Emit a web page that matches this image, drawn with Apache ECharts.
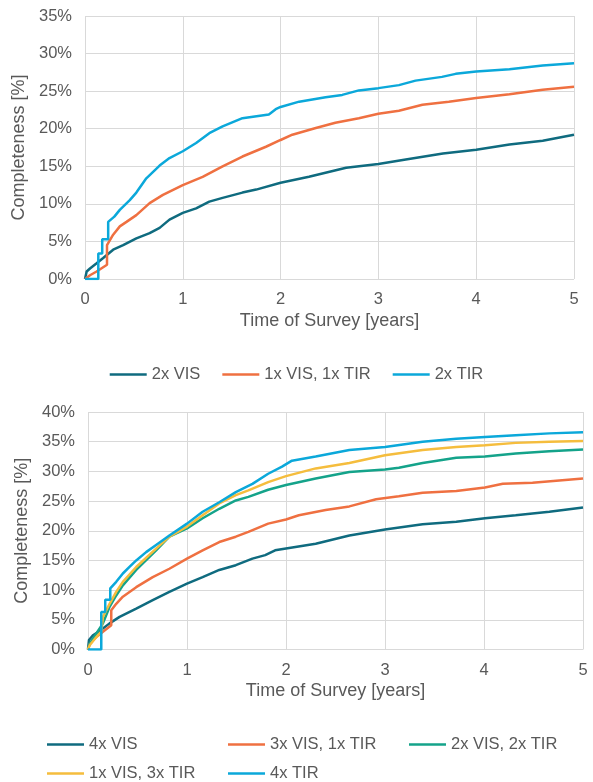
<!DOCTYPE html>
<html>
<head>
<meta charset="utf-8">
<script src="https://cdn.jsdelivr.net/npm/echarts@6/dist/echarts.min.js"></script>
<style>
  html, body { margin: 0; padding: 0; background: #ffffff; }
  #chart { width: 593px; height: 782px; }
</style>
</head>
<body>
<div id="chart"></div>
<script>
// ---------- Data (time in years, completeness in %) ----------
const xTicks = [0, 1, 2, 3, 4, 5];

// Top panel
const topNames = ['2x VIS', '1x VIS, 1x TIR', '2x TIR'];
const top2xVIS = [[0,0],[0.017,1.0],[0.051,1.4],[0.119,2.1],[0.186,2.8],[0.288,3.9],[0.39,4.5],[0.525,5.4],[0.661,6.1],[0.763,6.8],[0.864,7.9],[1.0,8.8],[1.136,9.4],[1.271,10.3],[1.407,10.8],[1.61,11.5],[1.75,11.9],[2.0,12.8],[2.29,13.6],[2.67,14.8],[3.0,15.3],[3.28,15.9],[3.66,16.7],[4.0,17.2],[4.34,17.9],[4.68,18.4],[5.0,19.2]];
const top1VIS1TIR = [[0,0],[0.051,0.5],[0.119,1.0],[0.225,1.9],[0.225,4.5],[0.288,5.9],[0.356,7.0],[0.424,7.6],[0.525,8.5],[0.661,10.1],[0.797,11.2],[1.0,12.5],[1.203,13.6],[1.407,15.0],[1.61,16.3],[1.85,17.6],[2.0,18.5],[2.12,19.2],[2.36,20.1],[2.56,20.8],[2.8,21.4],[3.0,22.0],[3.21,22.4],[3.45,23.2],[3.72,23.6],[4.0,24.1],[4.34,24.6],[4.68,25.2],[5.0,25.6]];
const top2xTIR = [[0,0],[0.136,0],[0.136,3.4],[0.176,3.4],[0.176,5.3],[0.237,5.3],[0.237,7.6],[0.3,8.3],[0.356,9.2],[0.458,10.5],[0.525,11.5],[0.627,13.4],[0.763,15.1],[0.864,16.1],[1.0,17.0],[1.136,18.1],[1.271,19.4],[1.407,20.3],[1.61,21.4],[1.88,21.9],[1.95,22.6],[2.0,22.9],[2.19,23.6],[2.46,24.2],[2.63,24.5],[2.8,25.1],[3.0,25.4],[3.21,25.8],[3.38,26.4],[3.65,26.9],[3.79,27.3],[4.0,27.6],[4.34,27.9],[4.68,28.4],[5.0,28.7]];

// Bottom panel
const botNames = ['4x VIS', '3x VIS, 1x TIR', '2x VIS, 2x TIR', '1x VIS, 3x TIR', '4x TIR'];
const bot4xVIS = [[0,0],[0.01,1.6],[0.05,2.4],[0.117,3.1],[0.218,4.4],[0.319,5.5],[0.487,6.9],[0.654,8.3],[0.822,9.7],[1.0,11.1],[1.158,12.2],[1.326,13.4],[1.493,14.2],[1.661,15.3],[1.79,15.9],[1.89,16.7],[2.0,17.0],[2.3,17.8],[2.64,19.2],[3.0,20.2],[3.38,21.1],[3.72,21.5],[4.01,22.1],[4.32,22.6],[4.66,23.2],[5.0,23.9]];
const bot3VIS1TIR = [[0,0],[0.017,1.0],[0.084,2.1],[0.151,3.0],[0.235,4.1],[0.235,6.6],[0.285,7.7],[0.352,8.9],[0.487,10.5],[0.654,12.2],[0.822,13.6],[1.0,15.3],[1.158,16.7],[1.326,18.1],[1.493,19.0],[1.62,19.8],[1.82,21.2],[2.0,21.9],[2.13,22.6],[2.4,23.5],[2.64,24.1],[2.91,25.3],[3.14,25.8],[3.38,26.4],[3.72,26.7],[4.01,27.3],[4.19,27.9],[4.49,28.1],[5.0,28.8]];
const bot2VIS2TIR = [[0,0],[0.017,1.0],[0.084,2.7],[0.151,4.4],[0.218,7.2],[0.285,9.1],[0.352,10.8],[0.487,13.4],[0.688,16.7],[0.822,19.0],[1.0,20.4],[1.158,22.1],[1.326,23.7],[1.493,25.1],[1.62,25.7],[1.82,26.9],[2.0,27.7],[2.3,28.8],[2.64,29.9],[3.0,30.3],[3.14,30.6],[3.38,31.4],[3.72,32.3],[4.01,32.5],[4.32,33.0],[4.66,33.4],[5.0,33.7]];
const bot1VIS3TIR = [[0,0],[0.017,0.7],[0.084,2.1],[0.134,3.0],[0.151,5.5],[0.218,7.7],[0.285,9.7],[0.352,11.4],[0.487,13.9],[0.688,17.0],[0.822,19.0],[1.0,20.7],[1.158,22.6],[1.326,24.6],[1.493,26.0],[1.62,26.8],[1.82,28.2],[2.0,29.2],[2.3,30.5],[2.64,31.4],[3.0,32.7],[3.38,33.6],[3.72,34.1],[4.01,34.4],[4.32,34.8],[4.66,35.0],[5.0,35.1]];
const bot4xTIR = [[0,0],[0.134,0],[0.134,6.3],[0.174,6.3],[0.174,8.4],[0.225,8.4],[0.225,10.3],[0.285,11.4],[0.352,12.8],[0.419,13.9],[0.487,15.0],[0.587,16.4],[0.688,17.6],[0.822,19.2],[1.0,21.2],[1.158,23.2],[1.326,24.8],[1.493,26.5],[1.661,27.9],[1.82,29.6],[1.96,30.8],[2.06,31.8],[2.3,32.5],[2.64,33.6],[3.0,34.1],[3.38,35.0],[3.72,35.5],[4.01,35.8],[4.32,36.1],[4.66,36.4],[5.0,36.6]];

// ---------- Styling ----------
const FONT = '"Liberation Sans", Arial, sans-serif';
const TXT = '#595959';
const GRIDC = '#d9d9d9';
const C_TEAL = '#0f6b7f', C_ORANGE = '#ef7041', C_BLUE = '#0ba8da', C_GREEN = '#14a38a', C_YELLOW = '#f5bd3d';

function xAxisCfg(gi) {
  return {
    type: 'value', gridIndex: gi, min: 0, max: 5, interval: 1,
    name: 'Time of Survey [years]', nameLocation: 'middle', nameGap: 33,
    nameTextStyle: { fontSize: 18, color: TXT, fontFamily: FONT },
    axisLine: { show: false }, axisTick: { show: false },
    axisLabel: { fontSize: 16.5, color: TXT, fontFamily: FONT, margin: 12 },
    splitLine: { show: true, lineStyle: { color: GRIDC, width: 1 } }
  };
}
function yAxisCfg(gi, max) {
  return {
    type: 'value', gridIndex: gi, min: 0, max: max, interval: 5,
    name: 'Completeness [%]', nameLocation: 'middle', nameGap: 54,
    nameTextStyle: { fontSize: 18, color: TXT, fontFamily: FONT },
    axisLine: { show: false }, axisTick: { show: false },
    axisLabel: { fontSize: 16.5, color: TXT, fontFamily: FONT, margin: 13, formatter: '{value}%' },
    splitLine: { show: true, lineStyle: { color: GRIDC, width: 1 } }
  };
}
function line(name, data, color, gi) {
  return {
    type: 'line', name: name, data: data, xAxisIndex: gi, yAxisIndex: gi,
    showSymbol: false, symbol: 'none', color: color,
    lineStyle: { color: color, width: 2.5 }, animation: false
  };
}
const legText = { fontSize: 16.5, color: TXT, fontFamily: FONT };
function legendAt(names, left, top) {
  return { data: names, left: left, top: top, padding: 0, itemWidth: 37, itemHeight: 14,
           itemGap: 22, textStyle: legText, icon: 'path://M0,6 L37,6 L37,8.5 L0,8.5 Z', selectedMode: false };
}

const option = {
  backgroundColor: '#ffffff',
  animation: false,
  grid: [
    { left: 85, top: 16, width: 489, height: 263 },
    { left: 88, top: 412, width: 495, height: 237.5 }
  ],
  xAxis: [xAxisCfg(0), xAxisCfg(1)],
  yAxis: [yAxisCfg(0, 35), yAxisCfg(1, 40)],
  legend: [
    legendAt(topNames, 'center', 366),
    legendAt([botNames[0]], 47, 736),
    legendAt([botNames[1]], 228, 736),
    legendAt([botNames[2]], 409, 736),
    legendAt([botNames[3]], 47, 765),
    legendAt([botNames[4]], 228, 765)
  ],
  series: [
    line(topNames[0], top2xVIS, C_TEAL, 0),
    line(topNames[1], top1VIS1TIR, C_ORANGE, 0),
    line(topNames[2], top2xTIR, C_BLUE, 0),
    line(botNames[0], bot4xVIS, C_TEAL, 1),
    line(botNames[1], bot3VIS1TIR, C_ORANGE, 1),
    line(botNames[2], bot2VIS2TIR, C_GREEN, 1),
    line(botNames[3], bot1VIS3TIR, C_YELLOW, 1),
    line(botNames[4], bot4xTIR, C_BLUE, 1)
  ]
};
const chart = echarts.init(document.getElementById('chart'), null, { renderer: 'canvas' });
chart.setOption(option);
</script>
</body>
</html>
